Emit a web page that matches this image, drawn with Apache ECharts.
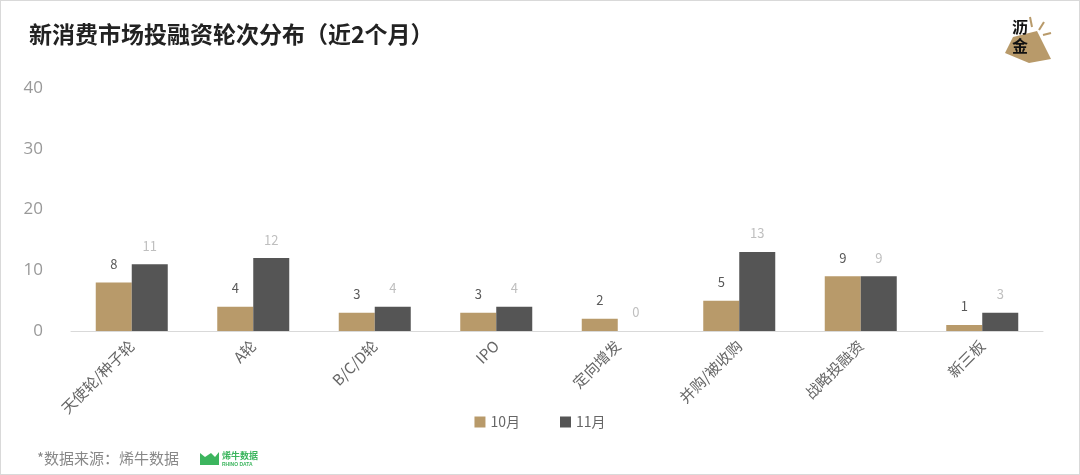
<!DOCTYPE html>
<html>
<head>
<meta charset="utf-8">
<script src="https://cdn.jsdelivr.net/npm/echarts@6/dist/echarts.min.js"></script>
<style>
  html, body { margin: 0; padding: 0; background: #fff; }
  #wrap { position: relative; width: 1078px; height: 473px; border: 1px solid #d9d9d9; }
  #chart { width: 1078px; height: 473px; }
</style>
</head>
<body>
<div id="wrap"><div id="chart"></div></div>
<script>
// 数据
var categories = ['天使轮/种子轮', 'A轮', 'B/C/D轮', 'IPO', '定向增发', '并购/被收购', '战略投融资', '新三板'];
var octValues = [8, 4, 3, 3, 2, 5, 9, 1];
var novValues = [11, 12, 4, 4, 0, 13, 9, 3];
var seriesNames = ['10月', '11月'];

var chart = echarts.init(document.getElementById('chart'));

var option = {
    animation: false,
    textStyle: { fontFamily: 'Noto Sans CJK SC' },
    graphic: [
        {
            type: 'text', left: 28, top: 22,
            style: { text: '新消费市场投融资轮次分布（近2个月）', fontSize: 23, fontWeight: 'bold', fill: '#222', fontFamily: 'Noto Sans CJK SC' }
        },
        {
            type: 'polygon',
            shape: { points: [[1012, 36], [1036, 30], [1050, 58], [1028, 62], [1004, 52]] },
            style: { fill: '#b89a6a' }
        },
        { type: 'line', shape: { x1: 1029, y1: 16, x2: 1031, y2: 26 }, style: { stroke: '#b89a6a', lineWidth: 2 } },
        { type: 'line', shape: { x1: 1043, y1: 21, x2: 1038, y2: 29 }, style: { stroke: '#b89a6a', lineWidth: 2 } },
        { type: 'line', shape: { x1: 1050, y1: 32, x2: 1042, y2: 34 }, style: { stroke: '#b89a6a', lineWidth: 2 } },
        {
            type: 'text', left: 1011, top: 16,
            style: { text: '沥\n金', fontSize: 16, fontWeight: 'bold', fill: '#111', lineHeight: 19, fontFamily: 'Noto Sans CJK SC' }
        },
        {
            type: 'text', left: 36, top: 450,
            style: { text: '*数据来源：烯牛数据', fontSize: 15, fill: '#888', fontFamily: 'Noto Sans CJK SC' }
        },
        {
            type: 'polygon',
            shape: { points: [[199, 452], [204, 456], [210, 452], [214, 456], [218, 451], [218, 464], [199, 464]] },
            style: { fill: '#3cb55e' }
        },
        {
            type: 'text', left: 221, top: 450,
            style: { text: '烯牛数据', fontSize: 9, fontWeight: 'bold', fill: '#3cb55e', fontFamily: 'Noto Sans CJK SC' }
        },
        {
            type: 'text', left: 221, top: 461,
            style: { text: 'RHINO DATA', fontSize: 5, fontWeight: 'bold', fill: '#3cb55e' }
        }
    ],
    legend: {
        data: seriesNames,
        bottom: 40,
        left: 'center',
        itemWidth: 11, itemHeight: 11, itemGap: 40,
        icon: 'rect',
        textStyle: { fontSize: 14, color: '#666' }
    },
    grid: { left: 70, right: 36, top: 87, bottom: 143 },
    xAxis: {
        type: 'category',
        data: categories,
        axisLine: { lineStyle: { color: '#d9d9d9' } },
        axisTick: { show: false },
        axisLabel: { rotate: 45, fontSize: 15, color: '#666', margin: 12 }
    },
    yAxis: {
        type: 'value',
        min: 0, max: 40, interval: 10,
        splitLine: { show: false },
        axisLine: { show: false },
        axisLabel: { fontSize: 17, color: '#999', margin: 28, fontFamily: 'Open Sans' }
    },
    series: [
        {
            name: seriesNames[0], type: 'bar', data: octValues, barWidth: 36, barGap: '0%',
            itemStyle: { color: '#b89a6a' },
            label: { show: true, position: 'top', distance: 12, fontSize: 13, color: '#595959' }
        },
        {
            name: seriesNames[1], type: 'bar', data: novValues, barWidth: 36,
            itemStyle: { color: '#555555' },
            label: { show: true, position: 'top', distance: 12, fontSize: 13, color: '#bfbfbf' }
        }
    ]
};

chart.setOption(option);
</script>
</body>
</html>
